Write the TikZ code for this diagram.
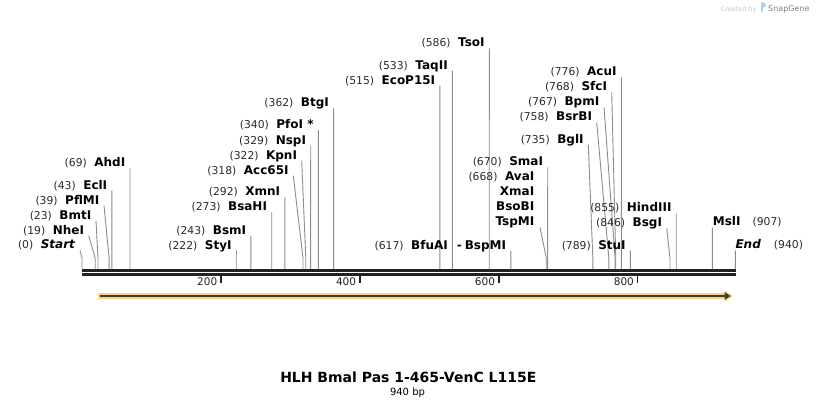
\documentclass[tikz,border=0pt]{standalone}
\usepackage{fontspec}
\setmainfont{DejaVu Sans}
\usepackage{tikz}
\usetikzlibrary{positioning}
\definecolor{cutgray}{HTML}{8C8C8C}
\definecolor{seqdark}{HTML}{222222}
\definecolor{numgray}{HTML}{2A2A2A}
\definecolor{featorange}{HTML}{FFD27F}
\definecolor{featdark}{HTML}{3C3C3C}
\definecolor{logogray}{HTML}{C4C4C4}
\definecolor{logoblue}{HTML}{A9D2F0}
\newcommand\sitenum{\fontsize{10.8}{10.8}\selectfont\mdseries\color{numgray}}

\begin{document}
\begin{tikzpicture}[x=1pt, y=-1pt,
  cutline/.style={cutgray, line width=0.9pt},
  sitelabel/.style={inner sep=0pt, font=\fontsize{12}{12}\selectfont\bfseries},
  rulerlabel/.style={inner sep=0pt, text=seqdark, font=\fontsize{10.5}{10.5}\selectfont}]
\useasboundingbox (0,0) rectangle (818,408);

\coordinate (S) at (82,270.2);
\coordinate (E) at (735.8,270.2);
\draw[seqdark, line width=2.8pt] (S) -- (E);
\draw[seqdark, line width=2.8pt] ([yshift=-4pt]S) -- ([yshift=-4pt]E);

\foreach \t in {200,400,600,800} {
  \coordinate (tick\t) at ({82+0.6945*\t},276);
  \draw[seqdark, line width=1.7pt] (tick\t) -- ++(0,7);
  \node[rulerlabel, anchor=base east] (num\t) at ([xshift=-3.5pt, yshift=-9pt]tick\t) {\t};
}

\foreach \bp/\tx/\ty/\enz [count=\i] in {
  0/80/250.5/{\textit{Start}}, 19/88.7/235.7/NheI, 23/96/220.7/BmtI,
  39/104/205.7/PflMI, 43/111.9/190.7/EclI, 69/130/168.3/AhdI,
  222/236.3/250.7/StyI, 243/250.9/235.7/BsmI, 273/271.7/212.4/BsaHI,
  292/284.9/197.4/XmnI, 318/293.3/175.7/Acc65I, 322/301.7/160.7/KpnI,
  329/310.7/145.7/NspI, 340/318.3/130/{PfoI *}, 362/333.6/108.4/BtgI,
  515/439.9/85.7/EcoP15I, 533/452.4/70.7/TaqII, 586/489.3/48.4/TsoI,
  617/510.8/250.7/{BfuAI\hspace{9pt}-\hspace{3pt}BspMI},
  670/547.7/167.4/SmaI, 735/588.3/145/BglI, 758/596.7/122.4/BsrBI,
  767/604/107.4/BpmI, 768/611.7/92.4/SfcI, 776/621.3/77.4/AcuI,
  789/630.4/250.7/StuI, 846/666.7/228.4/BsgI, 855/676.2/213.4/HindIII} {
  \coordinate (top\i) at (\tx,\ty);
  \coordinate (bend\i) at ({82+0.695*\bp},258);
  \coordinate (cut\i) at ({82+0.695*\bp},269);
  \draw[cutline] (top\i) -- (bend\i) -- (cut\i);
  \node[sitelabel, anchor=base east] (site\i) at ([xshift=-4.5pt, yshift=1.7pt]top\i)
    {{\sitenum(\bp)}\hspace{7.5pt}\enz};
}

\coordinate (tspTop) at (540,227.4);
\draw[cutline] (tspTop) -- ({82+0.695*668},258) -- ({82+0.695*668},269);
\node[sitelabel, anchor=base east] (tsp) at ([xshift=-5.5pt, yshift=1.7pt]tspTop) {TspMI};
\node[sitelabel, anchor=base east] (bso) at ([yshift=15pt]tsp.base east) {BsoBI};
\node[sitelabel, anchor=base east] (xma) at ([yshift=15pt]bso.base east) {XmaI};
\node[sitelabel, anchor=base east] (ava) at ([yshift=15pt]xma.base east) {{\sitenum(668)}\hspace{7.5pt}AvaI};

\coordinate (mslTop) at (712.4,227.6);
\draw[cutline] (mslTop) -- ({82+0.695*907},269);
\node[sitelabel, anchor=base west] (msl) at ([xshift=0.3pt, yshift=1.9pt]mslTop) {MslI\hspace{12pt}{\sitenum(907)}};
\coordinate (endTop) at (735.3,250.3);
\draw[cutline] (endTop) -- ({82+0.695*940},269);
\node[sitelabel, anchor=base west] (end) at ([yshift=2pt]endTop) {\textit{End}\hspace{13pt}{\sitenum(940)}};

\fill[featorange] (98,293) -- (725,293) -- (725,290.5) -- (733,296) -- (725,301.5) -- (725,299) -- (98,299) -- cycle;
\draw[featdark, line width=2.2pt] (100,296) -- (726,296);
\fill[featdark] (724.5,292) -- (730.5,296) -- (724.5,300) -- cycle;

\node[inner sep=0pt, anchor=base, font=\fontsize{14}{14}\selectfont\bfseries] (title) at (408.3,382) {HLH Bmal Pas 1-465-VenC L115E};
\node[inner sep=0pt, anchor=base, font=\fontsize{10}{10}\selectfont] (length) at (407.5,395.5) {940 bp};

\node[inner sep=0pt, anchor=base west, text=logogray, font=\fontsize{6.5}{6.5}\selectfont] (created) at (720.5,11) {Created by};
\fill[logoblue] (760.8,2) rectangle (762.8,12);
\fill[logoblue] (763.5,5) circle (2.5);
\node[inner sep=0pt, anchor=base west, text=gray, font=\fontsize{8}{8}\selectfont] (snapgene) at (768,11) {SnapGene};
\end{tikzpicture}
\end{document}
